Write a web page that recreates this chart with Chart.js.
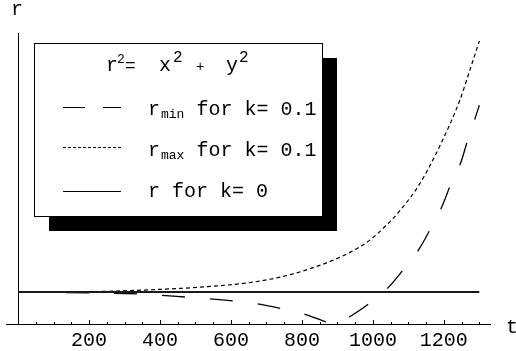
<!DOCTYPE html>
<html>
<head>
<meta charset="utf-8">
<script src="https://cdn.jsdelivr.net/npm/chart.js@4"></script>
<style>
  html, body { margin: 0; padding: 0; background: #fff; }
  #chart { display: block; }
</style>
</head>
<body>
<canvas id="chart" width="516" height="351"></canvas>
<script>
// values (t along x, r along y, r for k=0 taken as 1)
const xTickLabels = [200, 400, 600, 800, 1000, 1200];
const minorTickStep = 50;

const rFlatT = [0, 1300];
const rFlatR = [1, 1];

const rMaxT = [0, 200, 350, 510, 650, 710, 770, 820, 880, 935, 985, 1025, 1075, 1130, 1190, 1245, 1275, 1300];
const rMaxR = [1.0, 1.01, 1.06, 1.15, 1.29, 1.4, 1.55, 1.72, 1.96, 2.24, 2.57, 2.95, 3.53, 4.35, 5.6, 7.0, 8.0, 8.85];

const rMinT = [0, 140, 340, 475, 610, 680, 745, 815, 875, 893, 938, 992, 1045, 1087, 1130, 1163, 1194, 1220, 1248, 1268, 1290, 1300];
const rMinR = [1.0, 0.98, 0.94, 0.84, 0.72, 0.62, 0.47, 0.28, 0.04, 0.0, 0.25, 0.66, 1.16, 1.72, 2.34, 2.99, 3.66, 4.38, 5.06, 5.78, 6.5, 6.84];

const MONO = '"Liberation Mono", "Courier New", monospace';

function toPoints(ts, rs) {
  return ts.map((t, i) => ({ x: t, y: rs[i] }));
}

// tick marks point up into the plot, Mathematica style
const axisExtras = {
  id: "axisExtras",
  afterDraw(chart) {
    const c = chart.ctx;
    const xs = chart.scales.x;
    const y0 = chart.scales.y.getPixelForValue(0);
    c.save();
    c.strokeStyle = "#000";
    c.lineWidth = 1;
    for (let t = minorTickStep; t <= 1300; t += minorTickStep) {
      const px = Math.round(xs.getPixelForValue(t)) + 0.5;
      const len = xTickLabels.includes(t) ? 4 : 2;
      c.beginPath();
      c.moveTo(px, y0);
      c.lineTo(px, y0 - len);
      c.stroke();
    }
    c.fillStyle = "#000";
    c.font = "20px " + MONO;
    c.textBaseline = "alphabetic";
    c.fillText("r", 11, 15);
    c.fillText("t", 506, 333);
    c.restore();
  },
};

function drawPieces(c, pieces, baseline) {
  pieces.forEach((p) => {
    c.font = p.size + "px " + MONO;
    c.fillText(p.text, p.x, baseline + (p.dy || 0));
  });
}

function drawRow(c, main, sub, rest, x, baseline) {
  c.font = "20px " + MONO;
  c.fillText(main, x, baseline);
  x += c.measureText(main).width;
  if (sub) {
    c.font = "13px " + MONO;
    c.fillText(sub, x + 1, baseline + 3);
    x += c.measureText(sub).width + 1;
  }
  c.font = "20px " + MONO;
  c.fillText(rest, x, baseline);
}

function drawSample(c, y, dash) {
  c.beginPath();
  c.setLineDash(dash);
  c.moveTo(63, y + 0.5);
  c.lineTo(121, y + 0.5);
  c.stroke();
  c.setLineDash([]);
}

const legendBox = {
  id: "legendBox",
  afterDraw(chart) {
    const c = chart.ctx;
    c.save();
    c.fillStyle = "#000";
    c.fillRect(49, 58, 288, 173);
    c.fillStyle = "#fff";
    c.fillRect(34, 43, 288, 173);
    c.strokeStyle = "#000";
    c.lineWidth = 1;
    c.strokeRect(34.5, 43.5, 288, 173);

    c.fillStyle = "#000";
    c.textBaseline = "alphabetic";
    drawPieces(c, [
      { text: "r", x: 106, size: 20 },
      { text: "2", x: 117, size: 13, dy: -8 },
      { text: "=", x: 125, size: 18 },
      { text: "x", x: 159, size: 20 },
      { text: "2", x: 173, size: 16, dy: -9 },
      { text: "+", x: 196, size: 14 },
      { text: "y", x: 226, size: 20 },
      { text: "2", x: 239, size: 16, dy: -9 },
    ], 71);

    c.strokeStyle = "#000";
    c.lineWidth = 1;
    drawSample(c, 107, [22, 18]);
    drawSample(c, 147, [3, 2]);
    drawSample(c, 191, []);

    drawRow(c, "r", "min", " for k= 0.1", 148, 115);
    drawRow(c, "r", "max", " for k= 0.1", 148, 156);
    drawRow(c, "r", "", " for k= 0", 148, 197);
    c.restore();
  },
};

new Chart(document.getElementById("chart"), {
  type: "line",
  data: {
    datasets: [
      {
        label: "r for k=0",
        data: toPoints(rFlatT, rFlatR),
        borderColor: "#1a1a1a",
        borderWidth: 2,
        pointRadius: 0,
        tension: 0,
      },
      {
        label: "r max for k=0.1",
        data: toPoints(rMaxT, rMaxR),
        borderColor: "#000",
        borderWidth: 1.2,
        borderDash: [4, 3],
        pointRadius: 0,
        cubicInterpolationMode: "monotone",
      },
      {
        label: "r min for k=0.1",
        data: toPoints(rMinT, rMinR),
        borderColor: "#000",
        borderWidth: 1.3,
        borderDash: [23, 25],
        pointRadius: 0,
        cubicInterpolationMode: "monotone",
      },
    ],
  },
  options: {
    responsive: false,
    animation: false,
    devicePixelRatio: 1,
    layout: { padding: { left: 6, right: 26, top: 33, bottom: 27 } },
    scales: {
      x: {
        type: "linear",
        min: -34,
        max: 1330,
        position: { y: 0 },
        grid: { display: false, drawTicks: false },
        border: { display: true, color: "#000", width: 1 },
        afterBuildTicks: (scale) => {
          scale.ticks = xTickLabels.map((v) => ({ value: v }));
        },
        ticks: {
          autoSkip: false,
          maxRotation: 0,
          padding: 5,
          color: "#000",
          font: { family: MONO, size: 20 },
          callback: (value) => String(value),
        },
      },
      y: {
        type: "linear",
        min: 0,
        max: 9.1,
        position: { x: 0 },
        grid: { display: false, drawTicks: false },
        border: { display: true, color: "#000", width: 1 },
        ticks: { display: false },
      },
    },
    plugins: {
      legend: { display: false },
      tooltip: { enabled: false },
    },
  },
  plugins: [axisExtras, legendBox],
});
</script>
</body>
</html>
